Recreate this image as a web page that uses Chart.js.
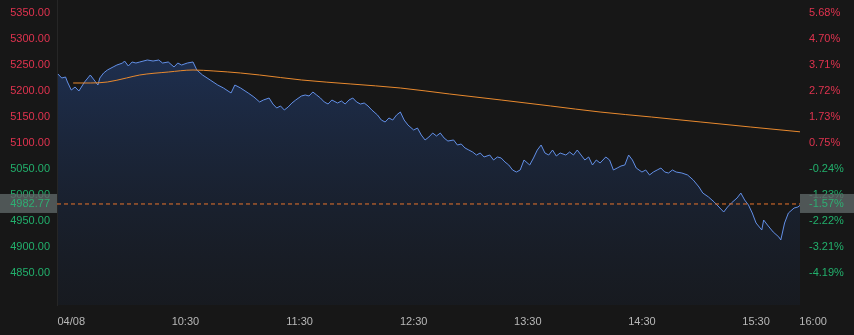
<!DOCTYPE html>
<html>
<head>
<meta charset="utf-8">
<script src="https://cdn.jsdelivr.net/npm/chart.js@4.4.1/dist/chart.umd.min.js"></script>
<style>
html, body { margin:0; padding:0; background:#171717; }
canvas { display:block; }
</style>
</head>
<body>
<canvas id="myChart" width="854" height="335"></canvas>
<script>
const PREV_CLOSE = 5062.25;   // 0% line of the right axis
const LAST_PRICE = 4982.77;
const DATE_LABEL = "04/08";

const priceTimes = ["09:23","09:25","09:27","09:28","09:30","09:32","09:34","09:36","09:37","09:40","09:42","09:44","09:45","09:47","09:49","09:52","09:54","09:57","09:58",
  "10:00","10:02","10:04","10:06","10:10","10:13","10:16","10:18","10:21","10:24","10:26","10:28","10:31","10:34","10:36","10:39","10:43","10:47","10:50","10:54","10:56","10:59",
  "11:03","11:06","11:09","11:11","11:14","11:16","11:18","11:20","11:22","11:24","11:26","11:28","11:31","11:33","11:35","11:37","11:39","11:41","11:43","11:45","11:47","11:50","11:52","11:54","11:56","11:58",
  "12:00","12:02","12:04","12:06","12:08","12:11","12:13","12:15","12:17","12:19","12:21","12:23","12:25","12:27","12:30","12:32","12:34","12:36","12:38","12:40","12:42","12:44","12:46","12:48","12:51","12:53","12:55","12:57","12:59",
  "13:01","13:03","13:05","13:07","13:10","13:12","13:14","13:16","13:18","13:20","13:22","13:24","13:26","13:28","13:31","13:33","13:35","13:37","13:39","13:41","13:43","13:45","13:47","13:50","13:52","13:54","13:56","13:58",
  "14:00","14:02","14:04","14:06","14:08","14:11","14:13","14:15","14:17","14:19","14:21","14:23","14:25","14:27","14:30","14:32","14:34","14:36","14:38","14:40","14:42","14:44","14:46","14:48","14:51","14:54","14:57",
  "15:00","15:02","15:05","15:08","15:11","15:13","15:15","15:17","15:20","15:22","15:24","15:26","15:28","15:30","15:33","15:34","15:36","15:39","15:42","15:43","15:45","15:47","15:50","15:52","15:54"];

const priceValues = [5232.7,5225.0,5226.9,5217.3,5201.9,5207.7,5200.0,5211.5,5217.3,5230.8,5221.2,5211.5,5225.0,5234.6,5240.4,5246.2,5250.0,5253.8,5257.7,
  5248.1,5255.8,5253.8,5255.8,5259.6,5257.7,5259.6,5253.8,5255.8,5246.2,5253.8,5250.0,5253.8,5255.8,5240.4,5230.8,5221.2,5211.5,5205.8,5196.2,5211.5,5205.8,
  5196.2,5188.5,5178.9,5182.7,5186.5,5175.0,5167.3,5171.2,5163.5,5169.2,5176.9,5182.7,5190.4,5192.3,5190.4,5198.1,5192.3,5186.5,5178.9,5175.0,5182.7,5176.9,5180.8,5175.0,5182.7,5186.5,
  5178.9,5175.0,5176.9,5171.2,5163.5,5153.8,5144.2,5140.4,5148.1,5144.2,5153.8,5159.6,5144.2,5134.6,5125.0,5128.8,5115.4,5105.8,5111.5,5119.2,5113.5,5119.2,5109.6,5103.8,5105.8,5096.2,5098.1,5090.4,5086.5,
  5082.7,5076.9,5080.8,5073.1,5076.9,5067.3,5073.1,5071.2,5063.5,5057.7,5048.1,5044.2,5048.1,5067.3,5057.7,5071.2,5086.5,5096.2,5080.8,5076.9,5086.5,5075.0,5080.8,5076.9,5082.7,5076.9,5086.5,5076.9,
  5067.3,5073.1,5057.7,5067.3,5061.5,5073.1,5067.3,5048.1,5051.9,5055.8,5057.7,5076.9,5067.3,5051.9,5044.2,5048.1,5038.5,5044.2,5048.1,5051.9,5044.2,5042.3,5048.1,5044.2,5042.3,5038.5,5028.8,
  5015.4,5003.8,4996.2,4986.5,4975.0,4967.3,4976.9,4984.6,4994.2,5003.8,4990.4,4980.8,4965.4,4946.2,4932.7,4951.9,4942.3,4928.9,4919.2,4913.5,4946.2,4965.4,4975.0,4976.9,4982.77];

const avgTimes = ["09:31","09:40","09:49","09:59","10:06","10:21","10:34","10:45","10:59","11:09","11:31","11:57","12:23","12:49","13:16","13:42","14:08","14:35","15:01","15:27","15:54"];
const avgValues = [5215.4,5215.4,5217.3,5225.0,5230.8,5236.5,5240.4,5238.5,5234.6,5230.8,5221.2,5213.5,5205.8,5194.2,5182.7,5171.2,5159.6,5150.0,5140.4,5130.8,5121.2];

const priceTicks = [4850,4900,4950,5000,5050,5100,5150,5200,5250,5300,5350];
const timeTicks = ["09:30","10:30","11:30","12:30","13:30","14:30","15:30","16:00"];

const RED = '#e0334f';
const GREEN = '#22b06c';

function toMin(s){ // "HH:MM" -> minutes since midnight
    let p = s.split(':');
    return Number(p[0]) * 60 + Number(p[1]);
}
function toTime(m){
    let h = Math.floor(m / 60), mm = m % 60;
    return h + ':' + (mm < 10 ? '0' : '') + mm;
}

const X_MIN = 562.5;
const X_MAX = 953.1;

const priceData = priceTimes.map((t, i) => ({x: toMin(t), y: priceValues[i]}));
const avgData = avgTimes.map((t, i) => ({x: toMin(t), y: avgValues[i]}));
const lastLine = [{x: X_MIN, y: LAST_PRICE}, {x: X_MAX, y: LAST_PRICE}];

const bgPlugin = {
    id: 'bg',
    beforeDraw(chart){
        const c = chart.ctx;
        c.save();
        c.fillStyle = '#171717';
        c.fillRect(0, 0, chart.width, chart.height);
        c.restore();
    }
};

// grey boxes with the current price on both axes
const lastBoxPlugin = {
    id: 'lastBox',
    afterDraw(chart){
        const c = chart.ctx;
        const y = chart.scales.y.getPixelForValue(LAST_PRICE);
        const left = chart.scales.y, right = chart.scales.y2;
        c.save();
        c.fillStyle = 'rgba(95,104,104,0.78)';
        c.fillRect(0, y - 10, left.right, 19);
        c.fillRect(right.left, y - 10, chart.width - right.left, 19);
        c.font = '11px "Liberation Sans", Arial, sans-serif';
        c.fillStyle = 'rgba(40,190,120,0.85)';
        c.textBaseline = 'middle';
        c.textAlign = 'right';
        c.fillText(LAST_PRICE.toFixed(2), left.right - 7, y);
        c.textAlign = 'left';
        c.fillText(((LAST_PRICE / PREV_CLOSE - 1) * 100).toFixed(2) + '%', right.left + 9, y);
        c.restore();
    }
};

const tickFont = {family: '"Liberation Sans", Arial, sans-serif', size: 11};
const setPriceTicks = scale => { scale.ticks = priceTicks.map(v => ({value: v})); };
const tickColor = ctx => (ctx.tick && ctx.tick.value >= PREV_CLOSE) ? RED : GREEN;
const noPad = scale => { scale.paddingTop = 0; scale.paddingBottom = 0; scale.paddingLeft = 0; scale.paddingRight = 0; };

const CTX = document.getElementById('myChart').getContext('2d');
const myChart = new Chart(CTX, {
    type: 'line',
    data: {
        datasets: [
            {
                data: priceData,
                borderColor: '#628fe6',
                borderWidth: 1,
                pointRadius: 0,
                tension: 0,
                fill: 'start',
                backgroundColor: ctx => {
                    const area = ctx.chart.chartArea;
                    if(!area) return 'rgba(30,55,100,0.4)';
                    const g = ctx.chart.ctx.createLinearGradient(0, area.top + 60, 0, area.bottom);
                    g.addColorStop(0, 'rgba(34,62,115,0.6)');
                    g.addColorStop(1, 'rgba(24,34,52,0.3)');
                    return g;
                },
                order: 2
            },
            {
                data: avgData,
                borderColor: '#e8892e',
                borderWidth: 1,
                pointRadius: 0,
                cubicInterpolationMode: 'monotone',
                fill: false,
                order: 1
            },
            {
                data: lastLine,
                borderColor: '#e8742c',
                borderWidth: 1,
                borderDash: [4, 3],
                pointRadius: 0,
                fill: false,
                order: 0
            }
        ]
    },
    options: {
        responsive: false,
        animation: false,
        parsing: false,
        layout: {padding: 0},
        plugins: {legend: {display: false}, tooltip: {enabled: false}},
        scales: {
            x: {
                type: 'linear',
                min: X_MIN,
                max: X_MAX,
                grid: {display: false, drawTicks: false},
                border: {display: false},
                afterBuildTicks: scale => { scale.ticks = timeTicks.map(t => ({value: toMin(t)})); },
                afterFit: scale => { scale.height = 30; noPad(scale); },
                ticks: {
                    autoSkip: false,
                    maxRotation: 0,
                    padding: 10,
                    color: '#b8b8b8',
                    font: tickFont,
                    callback: v => v === toMin(timeTicks[0]) ? DATE_LABEL : toTime(v)
                }
            },
            y: {
                position: 'left',
                min: 4788.5,
                max: 5375,
                grid: {display: false, drawTicks: false},
                border: {display: true, color: '#262626'},
                afterBuildTicks: setPriceTicks,
                afterFit: scale => { scale.width = 57; noPad(scale); },
                ticks: {padding: 7, color: tickColor, font: tickFont, callback: v => v.toFixed(2)}
            },
            y2: {
                position: 'right',
                min: 4788.5,
                max: 5375,
                grid: {display: false, drawTicks: false},
                border: {display: false},
                afterBuildTicks: setPriceTicks,
                afterFit: scale => { scale.width = 54; noPad(scale); },
                ticks: {
                    padding: 9, color: tickColor, font: tickFont,
                    callback: v => ((v / PREV_CLOSE - 1) * 100).toFixed(2) + '%'
                }
            }
        }
    },
    plugins: [bgPlugin, lastBoxPlugin]
});
</script>
</body>
</html>
